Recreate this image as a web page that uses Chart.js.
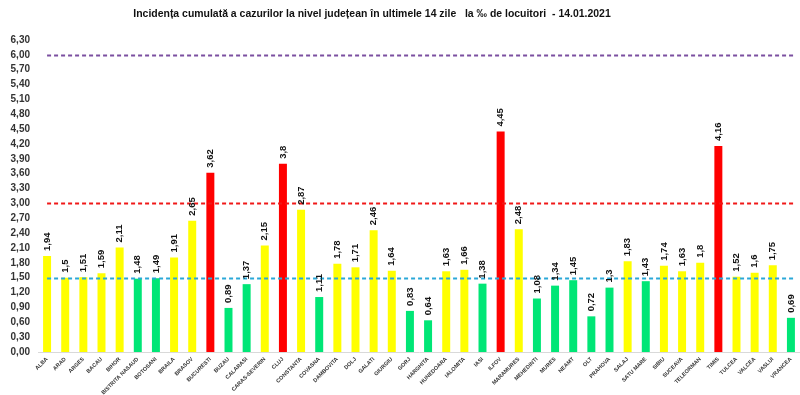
<!DOCTYPE html>
<html>
<head>
<meta charset="utf-8">
<script src="https://cdn.jsdelivr.net/npm/chart.js@4"></script>
<style>
  html, body { margin: 0; padding: 0; background: #fff; }
  #wrap { width: 800px; height: 395px; position: relative; }
</style>
</head>
<body>
<div id="wrap"><canvas id="incidentaChart"></canvas></div>
<script>
const judete = ['ALBA', 'ARAD', 'ARGES', 'BACAU', 'BIHOR', 'BISTRITA NASAUD', 'BOTOSANI', 'BRAILA', 'BRASOV',
    'BUCURESTI', 'BUZAU', 'CALARASI', 'CARAS-SEVERIN', 'CLUJ', 'CONSTANTA', 'COVASNA', 'DAMBOVITA', 'DOLJ',
    'GALATI', 'GIURGIU', 'GORJ', 'HARGHITA', 'HUNEDOARA', 'IALOMITA', 'IASI', 'ILFOV', 'MARAMURES', 'MEHEDINTI',
    'MURES', 'NEAMT', 'OLT', 'PRAHOVA', 'SALAJ', 'SATU MARE', 'SIBIU', 'SUCEAVA', 'TELEORMAN', 'TIMIS', 'TULCEA',
    'VALCEA', 'VASLUI', 'VRANCEA'];
const incidenta = [1.94, 1.5, 1.51, 1.59, 2.11, 1.48, 1.49, 1.91, 2.65, 3.62, 0.89, 1.37, 2.15, 3.8, 2.87, 1.11,
    1.78, 1.71, 2.46, 1.64, 0.83, 0.64, 1.63, 1.66, 1.38, 4.45, 2.48, 1.08, 1.34, 1.45, 0.72, 1.3, 1.83, 1.43,
    1.74, 1.63, 1.8, 4.16, 1.52, 1.6, 1.75, 0.69];
const praguri = [1.5, 3, 6];
const culoriPraguri = ['#2aa8d8', '#f01818', '#7b4fa0'];
const titlu = 'Incidența cumulată a cazurilor la nivel județean în ultimele 14 zile   la ‰ de locuitori  - 14.01.2021';

const fmt = v => String(v).replace('.', ',');

// bar colour follows the thresholds
const culoareBara = v => v > 3 ? '#ff0000' : (v >= 1.5 ? '#ffff00' : '#00e676');

const pluginDesen = {
    id: 'desen',
    afterDatasetsDraw(chart) {
        const ctx = chart.ctx;
        const x = chart.scales.x, y = chart.scales.y;

        // dashed threshold lines
        ctx.save();
        ctx.lineWidth = 2;
        ctx.setLineDash([4, 3]);
        praguri.forEach((p, i) => {
            const py = Math.round(y.getPixelForValue(p)) + 0.5;
            ctx.strokeStyle = culoriPraguri[i];
            ctx.beginPath();
            ctx.moveTo(x.getPixelForValue(0), py);
            ctx.lineTo(x.getPixelForValue(judete.length - 1) + 4, py);
            ctx.stroke();
        });
        ctx.restore();

        // rotated value labels
        ctx.save();
        ctx.fillStyle = '#111';
        ctx.font = 'bold 9.5px "Liberation Sans", Arial, sans-serif';
        ctx.textAlign = 'left';
        ctx.textBaseline = 'middle';
        chart.getDatasetMeta(0).data.forEach((bar, i) => {
            ctx.save();
            ctx.translate(bar.x, bar.y - 5);
            ctx.rotate(-Math.PI / 2);
            ctx.fillText(fmt(incidenta[i]), 0, 0);
            ctx.restore();
        });
        ctx.restore();

        // title (squeezed a bit to look like a narrow font)
        ctx.save();
        ctx.fillStyle = '#111';
        ctx.font = 'bold 11px "Liberation Sans", Arial, sans-serif';
        ctx.textAlign = 'center';
        ctx.textBaseline = 'middle';
        ctx.translate(372, 14);
        ctx.scale(0.95, 1);
        ctx.fillText(titlu, 0, 0);
        ctx.restore();
    }
};

const ctx = document.getElementById('incidentaChart').getContext('2d');
const incidentaChart = new Chart(ctx, {
    type: 'bar',
    data: {
        labels: judete,
        datasets: [{
            data: incidenta,
            backgroundColor: incidenta.map(culoareBara),
            barPercentage: 0.88,
            categoryPercentage: 0.5
        }]
    },
    options: {
        responsive: true,
        maintainAspectRatio: false,
        animation: false,
        layout: { padding: { top: 40, right: 0, left: 0, bottom: 0 } },
        plugins: {
            legend: { display: false },
            title: { display: false },
            tooltip: { enabled: false }
        },
        scales: {
            x: {
                grid: { display: false, drawTicks: false },
                border: { display: true, color: '#d9d9d9', width: 1 },
                ticks: {
                    autoSkip: false,
                    maxRotation: 45,
                    minRotation: 45,
                    padding: 4,
                    color: '#333',
                    font: { family: '"Liberation Sans", Arial, sans-serif', size: 5.5, weight: 'bold' }
                },
                afterFit(scale) { scale.height = 43; }
            },
            y: {
                min: 0,
                max: 6.3,
                grid: { display: false, drawTicks: false },
                border: { display: false },
                ticks: {
                    autoSkip: false,
                    stepSize: 0.3,
                    padding: 8,
                    color: '#333',
                    font: { family: '"Liberation Sans", Arial, sans-serif', size: 10, weight: 'bold' },
                    callback: v => v.toFixed(2).replace('.', ',')
                },
                afterFit(scale) { scale.width = 38; }
            }
        }
    },
    plugins: [pluginDesen]
});
</script>
</body>
</html>
